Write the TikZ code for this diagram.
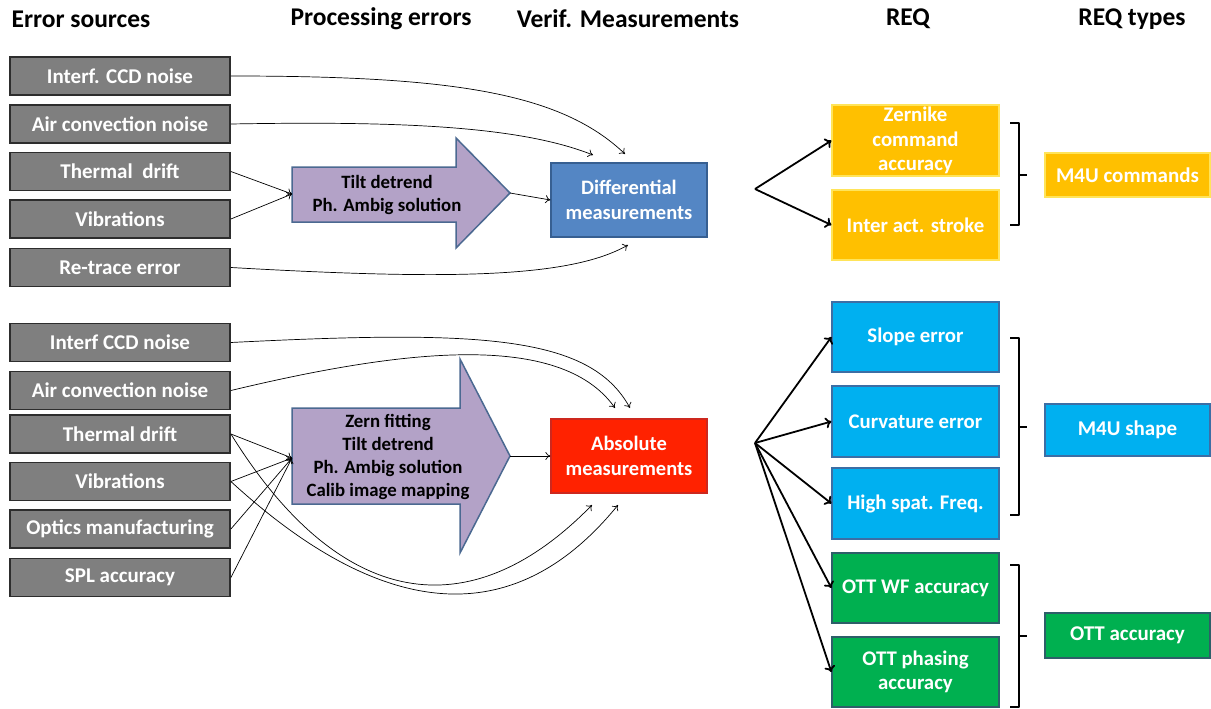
\documentclass[tikz,border=0pt]{standalone}
\usepackage{fontspec}
\setmainfont{Carlito}
\usetikzlibrary{arrows.meta}
\definecolor{srcfill}{RGB}{127,127,127}
\definecolor{srcline}{RGB}{45,45,45}
\definecolor{procfill}{RGB}{179,162,199}
\definecolor{procline}{RGB}{75,105,145}
\definecolor{difffill}{RGB}{84,134,196}
\definecolor{diffline}{RGB}{55,95,145}
\definecolor{absfill}{RGB}{255,34,0}
\definecolor{absline}{RGB}{205,40,30}
\definecolor{yelfill}{RGB}{255,192,0}
\definecolor{yelline}{RGB}{255,228,90}
\definecolor{cyanfill}{RGB}{0,176,240}
\definecolor{cyanline}{RGB}{60,110,165}
\definecolor{grnfill}{RGB}{0,176,80}
\definecolor{grnline}{RGB}{45,95,105}
\begin{document}
\begin{tikzpicture}[x=1pt,y=-1pt,
  hdr/.style={font=\bfseries\fontsize{25.5}{28}\selectfont, text=black},
  srcbox/.style={draw=srcline, fill=srcfill, line width=1.8pt, minimum width=220pt, minimum height=38pt, inner sep=0pt, text=white, font=\bfseries\fontsize{21}{23}\selectfont},
  procarrow/.style={draw=procline, fill=procfill, line width=1.5pt, line join=miter},
  proctext/.style={align=center, font=\bfseries\fontsize{18.8}{23}\selectfont, text=black},
  meas/.style={line width=1.2pt, minimum width=156pt, minimum height=74pt, inner sep=0pt, text=white, align=center, font=\bfseries\fontsize{20.5}{25}\selectfont},
  req/.style={line width=1.2pt, minimum width=167pt, minimum height=70pt, inner sep=0pt, text=white, align=center, font=\bfseries\fontsize{20.8}{24.5}\selectfont},
  reqtype/.style={line width=1.2pt, minimum width=165pt, inner sep=0pt, text=white, align=center, font=\bfseries\fontsize{21}{23}\selectfont},
  thin/.style={line width=0.7pt, -{To[length=5pt,width=8pt]}},
  fan/.style={line width=1.8pt, -{To[length=6pt,width=11pt]}},
  brk/.style={line width=1.8pt, line join=round}
]
\useasboundingbox (0,0) rectangle (1211,709);

% headers
\node[hdr] (h1) at (81,19) {Error sources};
\node[hdr] (h2) at (381,19) {Processing errors};
\node[hdr] (h3) at (628,19) {Verif. Measurements};
\node[hdr] (h4) at (908,19) {REQ};
\node[hdr] (h5) at (1132,19) {REQ types};

% top sources
\node[srcbox] (a1) at (120,76) {Interf. CCD noise};
\node[srcbox] (a2) at (120,124) {Air convection noise};
\node[srcbox] (a3) at (120,171.5) {Thermal\ \ drift};
\node[srcbox] (a4) at (120,219) {Vibrations};
\node[srcbox] (a5) at (120,267.5) {Re-trace error};

% bottom sources
\node[srcbox] (b1) at (120,342.5) {Interf CCD noise};
\node[srcbox] (b2) at (120,390.5) {Air convection noise};
\node[srcbox] (b3) at (120,434) {Thermal drift};
\node[srcbox] (b4) at (120,481.5) {Vibrations};
\node[srcbox] (b5) at (120,529) {Optics manufacturing};
\node[srcbox] (b6) at (120,577.5) {SPL accuracy};

% processing arrows
\draw[procarrow] (292,167) -- (456,167) -- (456,138) -- (510,193) -- (456,248) -- (456,222) -- (292,222) -- cycle;
\coordinate (p1tail) at (292,194);
\coordinate (p1tip) at (510,193);
\node[proctext] (p1) at (387,195) {Tilt detrend\\Ph. Ambig solution};

\draw[procarrow] (292,408) -- (460,408) -- (460,359) -- (510,456) -- (460,553) -- (460,504) -- (292,504) -- cycle;
\coordinate (p2tail) at (292,458);
\coordinate (p2tip) at (510,456);
\node[proctext] (p2) at (388,457) {Zern fitting\\Tilt detrend\\Ph. Ambig solution\\Calib image mapping};

% measurements
\node[meas, draw=diffline, fill=difffill] (diff) at (629,200) {Differential\\measurements};
\node[meas, draw=absline, fill=absfill] (abs) at (629,456) {Absolute\\measurements};

% REQ boxes
\node[req, draw=yelline, fill=yelfill, minimum height=71pt] (zern) at (915.5,140.5) {Zernike\\command\\accuracy};
\node[req, draw=yelline, fill=yelfill] (iact) at (915.5,225) {Inter act. stroke};
\node[req, draw=cyanline, fill=cyanfill] (slope) at (915.5,337) {Slope error};
\node[req, draw=cyanline, fill=cyanfill, minimum height=71pt] (curv) at (915.5,421.5) {Curvature error};
\node[req, draw=cyanline, fill=cyanfill, minimum height=71pt] (hsf) at (915.5,503.5) {High spat. Freq.};
\node[req, draw=grnline, fill=grnfill] (ottwf) at (915.5,588) {OTT WF accuracy};
\node[req, draw=grnline, fill=grnfill] (ottph) at (915.5,672) {OTT phasing\\accuracy};

% REQ types
\node[reqtype, draw=yelline, fill=yelfill, minimum height=44pt] (t1) at (1127.5,175) {M4U commands};
\node[reqtype, draw=cyanline, fill=cyanfill, minimum height=52pt] (t2) at (1127.5,430) {M4U shape};
\node[reqtype, draw=grnline, fill=grnfill, minimum height=45pt] (t3) at (1127.5,635.5) {OTT accuracy};

% brackets
\draw[brk] (1010,123) -- (1019,123) -- (1019,225) -- (1010,225);
\draw[brk] (1019,175) -- (1027,175);
\draw[brk] (1010,338) -- (1019,338) -- (1019,515) -- (1010,515);
\draw[brk] (1019,427) -- (1027,427);
\draw[brk] (1010,565) -- (1019,565) -- (1019,707) -- (1010,707);
\draw[brk] (1019,636) -- (1027,636);

% top thin connectors
\draw[thin] (a1.east) .. controls (450,76) and (560,92) .. (625,154);
\draw[thin] (a2.east) .. controls (400,121) and (520,126) .. (593,155);
\draw[thin] (a3.east) -- (p1tail);
\draw[thin] (a4.east) -- (p1tail);
\draw[thin] (a5.east) .. controls (450,280) and (570,278) .. (628,245);
\draw[thin] (p1tip) -- (diff.west);

% bottom thin connectors
\draw[thin] (b1.east) .. controls (480,330) and (590,335) .. (630,408);
\draw[thin] (b2.east) .. controls (400,350) and (560,330) .. (615,408);
\draw[thin] (b3.east) -- (p2tail);
\draw[thin] (b4.east) -- (p2tail);
\draw[thin] (b5.east) -- (p2tail);
\draw[thin] (b6.east) -- (p2tail);
\draw[thin] (b3.east) .. controls (340,610) and (470,630) .. (592,505);
\draw[thin] (b4.east) .. controls (360,600) and (500,650) .. (618,505);
\draw[thin] (p2tip) -- (abs.west);

% fans
\coordinate (f1) at (755,189);
\coordinate (f2) at (755,443);
\draw[fan] (f1) -- (zern.west);
\draw[fan] (f1) -- (iact.west);
\draw[fan] (f2) -- (slope.west);
\draw[fan] (f2) -- (curv.west);
\draw[fan] (f2) -- (hsf.west);
\draw[fan] (f2) -- (ottwf.west);
\draw[fan] (f2) -- (ottph.west);
\end{tikzpicture}
\end{document}
